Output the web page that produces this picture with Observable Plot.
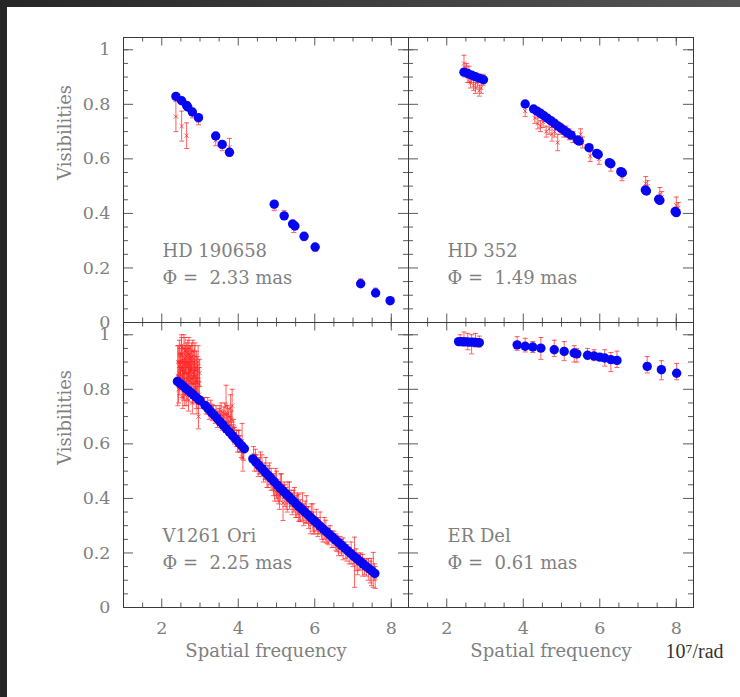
<!DOCTYPE html>
<html><head><meta charset="utf-8">
<script src="https://cdn.jsdelivr.net/npm/d3@7"></script>
<script src="https://cdn.jsdelivr.net/npm/@observablehq/plot@0.6"></script>
<style>
html,body{margin:0;padding:0;background:#fff;}
#wrap{position:relative;width:740px;height:697px;overflow:hidden;background:#fff;}
#topbar{position:absolute;left:0;top:0;width:740px;height:7px;background:linear-gradient(90deg,#262626,#3e3e3e 50%,#555);}
#leftbar{position:absolute;left:0;top:0;width:7px;height:697px;background:#262626;}
</style></head><body>
<div id="wrap"><div id="chart"></div><div id="topbar"></div><div id="leftbar"></div></div>
<script>
// ---- panels ----
const panels = ["HD 190658", "HD 352", "V1261 Ori", "ER Del"];
const diameters = ["2.33", "1.49", "2.25", "0.61"];
const panelCol = [0, 1, 0, 1];
const panelRow = [0, 0, 1, 1];

// ---- tick labels ----
const xTickLabels = [2, 4, 6, 8];
const xMinorTicks = [1.5, 2.5, 3, 3.5, 4.5, 5, 5.5, 6.5, 7, 7.5, 8];
const xMajorTicks = [2, 4, 6, 8];
const yTickLabels = [0, 0.2, 0.4, 0.6, 0.8, 1];
const yMajorTicks = [0.2, 0.4, 0.6, 0.8, 1];
const yMinorTicks = [0.05, 0.1, 0.15, 0.25, 0.3, 0.35, 0.45, 0.5, 0.55, 0.65, 0.7, 0.75, 0.85, 0.9, 0.95, 1.0];

// ---- HD 190658 ----
const hd190658ModelX = [2.37, 2.52, 2.65, 2.68, 2.80, 2.96, 3.41, 3.58, 3.77, 4.94, 5.20, 5.42, 5.48, 5.72, 6.01, 7.20, 7.59, 7.97];
const hd190658ModelY = [0.829, 0.813, 0.796, 0.790, 0.772, 0.751, 0.684, 0.653, 0.624, 0.434, 0.391, 0.361, 0.354, 0.316, 0.277, 0.142, 0.108, 0.080];
const hd190658ObsX = [2.37, 2.52, 2.65, 2.68, 2.80, 2.96, 3.41, 3.58, 3.77, 4.94, 5.20, 5.45, 5.72, 6.01, 7.20, 7.59, 7.97];
const hd190658ObsY = [0.755, 0.720, 0.685, 0.790, 0.765, 0.740, 0.668, 0.645, 0.643, 0.422, 0.395, 0.345, 0.310, 0.270, 0.150, 0.116, 0.080];
const hd190658ObsErr = [0.055, 0.055, 0.047, 0.010, 0.015, 0.015, 0.020, 0.015, 0.032, 0.012, 0.015, 0.015, 0.010, 0.010, 0.010, 0.010, 0.010];

// ---- HD 352 ----
const hd352ModelX = [2.45, 2.55, 2.65, 2.75, 2.85, 2.96, 4.05, 4.27, 4.36, 4.45, 4.54, 4.63, 4.72, 4.81, 4.90, 4.99, 5.08, 5.16, 5.25, 5.42, 5.46, 5.72, 5.92, 5.96, 6.25, 6.29, 6.55, 6.59, 7.19, 7.22, 7.54, 7.57, 7.97, 8.00];
const hd352ModelY = [0.918, 0.913, 0.907, 0.901, 0.896, 0.890, 0.801, 0.783, 0.775, 0.767, 0.758, 0.749, 0.740, 0.731, 0.721, 0.712, 0.703, 0.695, 0.687, 0.669, 0.665, 0.641, 0.620, 0.616, 0.586, 0.582, 0.553, 0.549, 0.486, 0.482, 0.452, 0.448, 0.407, 0.403];
const hd352ObsX = [2.45, 2.48, 2.52, 2.55, 2.58, 2.62, 2.65, 2.70, 2.75, 2.80, 2.85, 2.90, 2.95, 4.05, 4.30, 4.38, 4.45, 4.52, 4.60, 4.68, 4.75, 4.82, 4.90, 4.98, 5.05, 5.12, 5.20, 5.30, 5.50, 5.55, 5.75, 5.98, 6.29, 6.58, 7.20, 7.25, 7.57, 7.62, 8.00, 8.05];
const hd352ObsY = [0.950, 0.920, 0.930, 0.900, 0.910, 0.880, 0.900, 0.870, 0.860, 0.880, 0.850, 0.860, 0.890, 0.775, 0.750, 0.730, 0.720, 0.735, 0.700, 0.710, 0.690, 0.700, 0.660, 0.710, 0.700, 0.700, 0.690, 0.680, 0.690, 0.660, 0.610, 0.600, 0.575, 0.535, 0.510, 0.500, 0.470, 0.460, 0.430, 0.420];
const hd352ObsErr = [0.030, 0.020, 0.020, 0.020, 0.030, 0.020, 0.020, 0.020, 0.020, 0.020, 0.020, 0.020, 0.020, 0.020, 0.020, 0.020, 0.020, 0.020, 0.020, 0.020, 0.025, 0.020, 0.030, 0.020, 0.020, 0.020, 0.020, 0.020, 0.020, 0.020, 0.020, 0.020, 0.020, 0.015, 0.025, 0.020, 0.025, 0.020, 0.030, 0.020];

// ---- V1261 Ori ----
const v1261ModelX = [2.41, 2.48, 2.55, 2.62, 2.69, 2.76, 2.83, 2.90, 2.97, 3.00,
  3.13, 3.21, 3.29, 3.37, 3.45, 3.53, 3.61, 3.69, 3.77, 3.85, 3.93, 4.01, 4.09, 4.16,
  4.38, 4.46, 4.54, 4.62, 4.70, 4.78, 4.86, 4.94, 5.02, 5.10, 5.18, 5.26, 5.34, 5.42, 5.50, 5.58, 5.66, 5.74, 5.82, 5.90, 5.98,
  6.06, 6.14, 6.22, 6.30, 6.38, 6.46, 6.54, 6.62, 6.70, 6.78, 6.86, 6.94, 7.02, 7.10, 7.18, 7.26, 7.34, 7.42, 7.50, 7.57];
const v1261ModelY = [0.829, 0.821, 0.813, 0.804, 0.796, 0.788, 0.779, 0.771, 0.762, 0.759,
  0.741, 0.729, 0.717, 0.705, 0.693, 0.680, 0.668, 0.655, 0.643, 0.630, 0.618, 0.605, 0.593, 0.582,
  0.545, 0.533, 0.521, 0.509, 0.497, 0.485, 0.473, 0.461, 0.449, 0.437, 0.426, 0.415, 0.404, 0.393, 0.382, 0.371, 0.361, 0.350, 0.340, 0.329, 0.319,
  0.309, 0.298, 0.288, 0.278, 0.268, 0.258, 0.248, 0.238, 0.228, 0.218, 0.208, 0.198, 0.188, 0.179, 0.170, 0.160, 0.151, 0.142, 0.133, 0.125];
const v1261ObsX = [2.42, 2.45, 2.48, 2.50, 2.52, 2.55, 2.55, 2.57, 2.58, 2.60, 2.62, 2.64, 2.66, 2.68, 2.70, 2.72, 2.74, 2.76, 2.78, 2.80, 2.82, 2.85, 2.88, 2.90, 2.93, 2.96, 2.98,
  3.12, 3.20, 3.28, 3.35, 3.42, 3.50, 3.55, 3.60, 3.65, 3.68, 3.70, 3.75, 3.80, 3.84, 3.88, 3.95, 4.00, 4.05, 4.10, 4.12,
  4.40, 4.48, 4.55, 4.62, 4.70, 4.75, 4.82, 4.90, 4.95, 5.00, 5.05, 5.10, 5.17, 5.20, 5.25, 5.30, 5.38, 5.45, 5.50, 5.55, 5.60, 5.68, 5.75, 5.80, 5.88, 5.95, 6.00,
  6.10, 6.18, 6.25, 6.35, 6.45, 6.55, 6.62, 6.70, 6.80, 6.90, 7.00, 7.04, 7.12, 7.20, 7.30, 7.45, 7.53, 7.58];
const v1261ObsY = [0.850, 0.860, 0.900, 0.840, 0.930, 0.880, 0.770, 0.820, 0.950, 0.860, 0.910, 0.800, 0.880, 0.930, 0.850, 0.900, 0.830, 0.870, 0.920, 0.800, 0.860, 0.900, 0.830, 0.780, 0.870, 0.700, 0.820,
  0.750, 0.740, 0.730, 0.720, 0.710, 0.700, 0.720, 0.690, 0.710, 0.740, 0.680, 0.700, 0.730, 0.740, 0.660, 0.620, 0.620, 0.600, 0.610, 0.550,
  0.560, 0.530, 0.520, 0.520, 0.500, 0.470, 0.490, 0.460, 0.430, 0.450, 0.420, 0.440, 0.383, 0.430, 0.400, 0.420, 0.400, 0.390, 0.360, 0.380, 0.350, 0.370, 0.350, 0.340, 0.310, 0.330, 0.300,
  0.300, 0.280, 0.290, 0.260, 0.250, 0.240, 0.220, 0.220, 0.210, 0.190, 0.180, 0.166, 0.160, 0.170, 0.150, 0.130, 0.138, 0.110];
const v1261ObsErr = [0.110, 0.040, 0.050, 0.040, 0.060, 0.050, 0.040, 0.060, 0.050, 0.040, 0.050, 0.060, 0.060, 0.050, 0.050, 0.060, 0.050, 0.050, 0.050, 0.050, 0.040, 0.060, 0.050, 0.050, 0.050, 0.045, 0.060,
  0.020, 0.030, 0.030, 0.020, 0.030, 0.030, 0.030, 0.030, 0.040, 0.075, 0.030, 0.030, 0.050, 0.060, 0.030, 0.030, 0.030, 0.030, 0.065, 0.050,
  0.030, 0.030, 0.030, 0.040, 0.030, 0.030, 0.040, 0.030, 0.040, 0.050, 0.040, 0.050, 0.064, 0.030, 0.040, 0.040, 0.030, 0.040, 0.030, 0.040, 0.030, 0.050, 0.040, 0.030, 0.040, 0.050, 0.030,
  0.030, 0.030, 0.040, 0.030, 0.030, 0.030, 0.030, 0.030, 0.030, 0.030, 0.030, 0.092, 0.040, 0.030, 0.030, 0.040, 0.064, 0.040];
// second set of V1261 Ori observations (denser parts of the red cloud)
const v1261Obs2X = [2.43, 2.44, 2.46, 2.47, 2.49, 2.51, 2.53, 2.54, 2.56, 2.59, 2.61, 2.63, 2.65, 2.67, 2.69, 2.71, 2.73, 2.75, 2.77, 2.79, 2.81, 2.83, 2.84, 2.86, 2.87, 2.89, 2.91, 2.92, 2.94, 2.95, 2.97, 2.99, 2.60, 2.70, 2.80,
  3.16, 3.24, 3.32, 3.40, 3.46, 3.52, 3.58, 3.62, 3.72, 3.78, 3.82, 3.86, 3.90, 3.98, 4.02, 4.08, 4.14,
  4.42, 4.45, 4.52, 4.58, 4.66, 4.72, 4.78, 4.86, 4.92, 4.98, 5.02, 5.08, 5.13, 5.22, 5.28, 5.34, 5.41, 5.47, 5.53, 5.58, 5.63, 5.71, 5.78, 5.84, 5.91, 5.97,
  6.04, 6.08, 6.14, 6.21, 6.29, 6.32, 6.40, 6.50, 6.58, 6.66, 6.74, 6.84, 6.95, 7.08, 7.16, 7.25, 7.35, 7.40, 7.48, 7.56];
const v1261Obs2Y = [0.900, 0.800, 0.930, 0.840, 0.880, 0.960, 0.820, 0.900, 0.860, 0.890, 0.940, 0.840, 0.920, 0.810, 0.890, 0.950, 0.870, 0.910, 0.840, 0.880, 0.940, 0.820, 0.890, 0.850, 0.920, 0.800, 0.880, 0.760, 0.840, 0.900, 0.780, 0.860, 0.780, 0.760, 0.750,
  0.730, 0.720, 0.715, 0.700, 0.690, 0.710, 0.680, 0.700, 0.710, 0.670, 0.690, 0.640, 0.630, 0.600, 0.610, 0.580, 0.570,
  0.530, 0.550, 0.510, 0.530, 0.490, 0.510, 0.480, 0.470, 0.450, 0.460, 0.430, 0.410, 0.450, 0.410, 0.390, 0.410, 0.380, 0.400, 0.370, 0.365, 0.355, 0.340, 0.360, 0.330, 0.340, 0.310,
  0.320, 0.290, 0.310, 0.270, 0.280, 0.265, 0.270, 0.250, 0.235, 0.230, 0.215, 0.200, 0.200, 0.175, 0.165, 0.155, 0.145, 0.140, 0.130, 0.130];
const v1261Obs2Err = [0.060, 0.050, 0.050, 0.060, 0.050, 0.040, 0.050, 0.060, 0.050, 0.060, 0.050, 0.060, 0.050, 0.050, 0.060, 0.040, 0.060, 0.050, 0.050, 0.060, 0.040, 0.050, 0.050, 0.060, 0.050, 0.050, 0.060, 0.050, 0.050, 0.060, 0.050, 0.050, 0.040, 0.040, 0.040,
  0.020, 0.030, 0.030, 0.025, 0.030, 0.030, 0.030, 0.035, 0.030, 0.030, 0.030, 0.030, 0.030, 0.030, 0.040, 0.030, 0.030,
  0.030, 0.030, 0.030, 0.040, 0.030, 0.040, 0.040, 0.040, 0.040, 0.050, 0.040, 0.050, 0.040, 0.040, 0.040, 0.050, 0.040, 0.040, 0.040, 0.050, 0.040, 0.040, 0.050, 0.040, 0.040, 0.040,
  0.040, 0.030, 0.040, 0.030, 0.040, 0.030, 0.030, 0.030, 0.030, 0.030, 0.040, 0.030, 0.040, 0.040, 0.030, 0.040, 0.030, 0.040, 0.050, 0.030];

// ---- ER Del ----
const erDelModelX = [2.31, 2.38, 2.45, 2.52, 2.60, 2.68, 2.76, 2.85, 3.84, 4.05, 4.25, 4.46, 4.81, 5.07, 5.33, 5.40, 5.68, 5.85, 6.00, 6.13, 6.29, 6.45, 7.24, 7.61, 8.01];
const erDelModelY = [0.975, 0.975, 0.974, 0.974, 0.973, 0.973, 0.972, 0.971, 0.963, 0.958, 0.955, 0.951, 0.945, 0.939, 0.933, 0.930, 0.925, 0.922, 0.918, 0.915, 0.909, 0.906, 0.884, 0.872, 0.859];
const erDelObsX = [2.35, 2.45, 2.55, 2.65, 2.75, 2.85, 3.84, 4.05, 4.25, 4.46, 4.81, 5.07, 5.33, 5.40, 5.68, 5.85, 6.13, 6.29, 6.45, 7.24, 7.61, 8.01];
const erDelObsY = [0.980, 0.985, 0.975, 0.965, 0.980, 0.975, 0.968, 0.962, 0.955, 0.950, 0.950, 0.940, 0.930, 0.925, 0.930, 0.925, 0.915, 0.900, 0.910, 0.890, 0.870, 0.865];
const erDelObsErr = [0.020, 0.025, 0.030, 0.035, 0.025, 0.020, 0.025, 0.025, 0.020, 0.040, 0.030, 0.035, 0.030, 0.025, 0.020, 0.020, 0.030, 0.035, 0.030, 0.030, 0.035, 0.030];

// ---- table for the library ----
const modelX = [hd190658ModelX, hd352ModelX, v1261ModelX, erDelModelX];
const modelY = [hd190658ModelY, hd352ModelY, v1261ModelY, erDelModelY];
const obsX = [hd190658ObsX, hd352ObsX, v1261ObsX.concat(v1261Obs2X), erDelObsX];
const obsY = [hd190658ObsY, hd352ObsY, v1261ObsY.concat(v1261Obs2Y), erDelObsY];
const obsErr = [hd190658ObsErr, hd352ObsErr, v1261ObsErr.concat(v1261Obs2Err), erDelObsErr];

const rows = [];
panels.forEach((name, i) => {
  const col = panelCol[i], row = panelRow[i];
  rows.push({kind: "label", col, row, name, phi: "\u03A6 = \u00A0" + diameters[i] + " mas"});
  obsX[i].forEach((x, j) => rows.push({kind: "obs", col, row, x, y: obsY[i][j], e: obsErr[i][j]}));
  modelX[i].forEach((x, j) => rows.push({kind: "model", col, row, x, y: modelY[i][j]}));
});

const W = 740, H = 697, ML = 123, MT = 36, MR = 47, MB = 90;
const FW = (W - ML - MR) / 2, FH = (H - MT - MB) / 2;
const FONT = "'DejaVu Serif', serif";
const RED = "#ff2424", BLUE = "#0606f0", AXIS = "#5a5a5a", TXT = "#808080";
const capSymbol = {draw(ctx, size) { const r = Math.sqrt(size / Math.PI); ctx.moveTo(-r, 0); ctx.lineTo(r, 0); }};
const isObs = d => d.kind === "obs";

const chart = Plot.plot({
  width: W, height: H,
  marginLeft: ML, marginTop: MT, marginRight: MR, marginBottom: MB,
  facet: {data: rows, x: "col", y: "row", marginTop: 0, marginRight: 0, marginBottom: 0, marginLeft: 0},
  fx: {padding: 0, axis: null},
  fy: {padding: 0, axis: null},
  x: {domain: [1.0, 8.45], ticks: xTickLabels, tickSize: 0, tickPadding: 14, label: null, tickFormat: d => String(d)},
  y: {domain: [0, 1.045], ticks: yTickLabels, tickSize: 0, tickPadding: 13, label: null, tickFormat: d => (d === 0 ? "0" : d === 1 ? "1" : d.toFixed(1))},
  style: {fontFamily: FONT, fontSize: "17.5px", color: TXT, background: "transparent", overflow: "visible"},
  marks: [
    // inside ticks on four sides
    Plot.tickX(xMajorTicks, {x: d => d, insetTop: FH - 9, stroke: AXIS}),
    Plot.tickX(xMajorTicks, {x: d => d, insetBottom: FH - 9, stroke: AXIS}),
    Plot.tickX(xMinorTicks, {x: d => d, insetTop: FH - 5, stroke: AXIS}),
    Plot.tickX(xMinorTicks, {x: d => d, insetBottom: FH - 5, stroke: AXIS}),
    Plot.tickY(yMajorTicks, {y: d => d, insetRight: FW - 10, stroke: AXIS}),
    Plot.tickY(yMajorTicks, {y: d => d, insetLeft: FW - 10, stroke: AXIS}),
    Plot.tickY(yMinorTicks, {y: d => d, insetRight: FW - 5, stroke: AXIS}),
    Plot.tickY(yMinorTicks, {y: d => d, insetLeft: FW - 5, stroke: AXIS}),
    Plot.frame({stroke: "#3a3a3a", strokeWidth: 1}),
    // observations with error bars
    Plot.ruleX(rows, {filter: isObs, x: "x", y1: d => d.y - d.e, y2: d => d.y + d.e, stroke: RED, strokeWidth: 0.9, strokeOpacity: 0.8}),
    Plot.dot(rows, {filter: isObs, x: "x", y: d => d.y - d.e, symbol: capSymbol, r: 2.5, stroke: RED, strokeWidth: 0.9, fill: "none", strokeOpacity: 0.8}),
    Plot.dot(rows, {filter: isObs, x: "x", y: d => d.y + d.e, symbol: capSymbol, r: 2.5, stroke: RED, strokeWidth: 0.9, fill: "none", strokeOpacity: 0.8}),
    Plot.dot(rows, {filter: isObs, x: "x", y: "y", symbol: "times", r: 2, stroke: RED, strokeWidth: 0.9, strokeOpacity: 0.8}),
    // model
    Plot.dot(rows, {filter: d => d.kind === "model", x: "x", y: "y", r: 4.7, fill: BLUE, stroke: "none"}),
    // annotations
    Plot.text(rows, {filter: d => d.kind === "label", text: "name", frameAnchor: "top-left", dx: 39, dy: 214, textAnchor: "start", lineAnchor: "middle", fill: TXT, fontSize: 18}),
    Plot.text(rows, {filter: d => d.kind === "label", text: "phi", frameAnchor: "top-left", dx: 39, dy: 241, textAnchor: "start", lineAnchor: "middle", fill: TXT, fontSize: 18}),
    Plot.text(rows, {filter: d => d.kind === "label" && d.col === 0, text: () => "Visibilities", frameAnchor: "left", dx: -58, rotate: -90, lineAnchor: "middle", fill: TXT, fontSize: 18}),
    Plot.text(rows, {filter: d => d.kind === "label" && d.row === 1, text: () => "Spatial frequency", frameAnchor: "bottom", dy: 44, lineAnchor: "middle", fill: TXT, fontSize: 18}),
    Plot.text(rows, {filter: d => d.kind === "label" && d.row === 1 && d.col === 1, text: () => "10\u2077/rad", frameAnchor: "bottom-right", dx: -28, dy: 44, textAnchor: "start", lineAnchor: "middle", fill: "#333", fontSize: 20, fontFamily: "'Liberation Serif', 'DejaVu Serif', serif"})
  ]
});
document.getElementById("chart").appendChild(chart);
</script>
</body></html>
